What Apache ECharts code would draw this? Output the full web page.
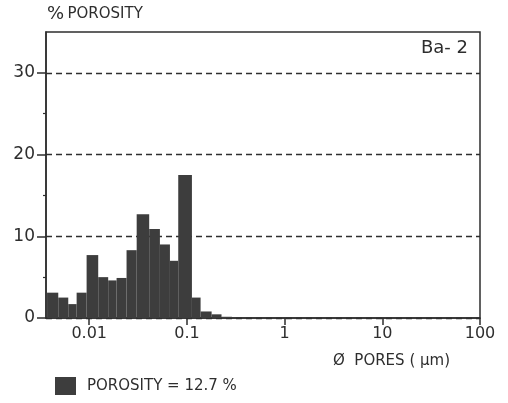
<!DOCTYPE html>
<html>
<head>
<meta charset="utf-8">
<script src="https://cdn.jsdelivr.net/npm/echarts@6/dist/echarts.min.js"></script>
<style>
html,body{margin:0;padding:0;background:#fff;}
#chart{width:508px;height:403px;}
</style>
</head>
<body>
<div id="chart"></div>
<script>
// Pore-diameter bin edges (μm)
var binEdges = [0.0037, 0.00482, 0.0061, 0.00743, 0.0094, 0.01236, 0.01563, 0.01905, 0.0241, 0.0306,
                0.0411, 0.0529, 0.067, 0.0815, 0.1125, 0.138, 0.179, 0.226, 0.289];
// % porosity in each bin
var porosity = [3.1, 2.5, 1.7, 3.1, 7.7, 5.0, 4.6, 4.9, 8.3, 12.7, 10.9, 9.0, 7.0, 17.5, 2.5, 0.8, 0.45, 0.15];
// axis ticks
var xTickValues = [0.01, 0.1, 1, 10, 100];
var xTickLabels = ['0.01', '0.1', '1', '10', '100'];
var xMin = 0.00361, xMax = 100;
var yTicks = [0, 10, 20, 30];
var yMinorTicks = [5, 15, 25];
var yMax = 35;
var sampleName = 'Ba- 2';
var seriesName = 'POROSITY = 12.7 %';

var L = Math.log10;
var data = porosity.map(function (v, i) { return [L(binEdges[i]), L(binEdges[i + 1]), v]; });
var ink = '#2e2e2e';
var font = 'DejaVu Sans';

var chart = echarts.init(document.getElementById('chart'), null, {renderer: 'canvas'});
chart.setOption({
  backgroundColor: '#ffffff',
  animation: false,
  textStyle: {fontFamily: font, color: ink},
  grid: {left: 46, right: 28, top: 32, bottom: 85, show: true, borderColor: ink, borderWidth: 1.5, backgroundColor: 'transparent'},
  legend: {
    data: [seriesName], left: 50, top: 372, icon: 'rect', itemWidth: 21, itemHeight: 18,
    textStyle: {fontFamily: font, fontSize: 15, color: ink, padding: [0, 0, 0, 6]}
  },
  xAxis: {
    type: 'value', min: L(xMin), max: L(xMax),
    axisLine: {show: true, onZero: false, lineStyle: {color: ink, width: 1.5}},
    axisTick: {show: true, length: 7, lineStyle: {color: ink, width: 1.5}, customValues: xTickValues.map(L)},
    axisLabel: {
      show: true, margin: 8, fontSize: 16, color: ink, fontFamily: font,
      customValues: xTickValues.map(L),
      formatter: function (v) {
        for (var i = 0; i < xTickValues.length; i++) { if (Math.abs(L(xTickValues[i]) - v) < 1e-6) return xTickLabels[i]; }
        return '';
      }
    },
    splitLine: {show: false}
  },
  yAxis: [{
    type: 'value', min: 0, max: yMax, interval: 10,
    axisLine: {show: true, onZero: false, lineStyle: {color: ink, width: 1.5}},
    axisTick: {show: true, length: 9, lineStyle: {color: ink, width: 1.5}, customValues: yTicks},
    axisLabel: {show: true, margin: 11, fontSize: 17, color: ink, fontFamily: font, customValues: yTicks},
    splitLine: {show: true, lineStyle: {color: ink, width: 1.3, type: [6, 4]}}
  }, {
    type: 'value', min: 0, max: yMax, position: 'left', offset: 0,
    axisLine: {show: false, onZero: false},
    axisTick: {show: true, length: 3, lineStyle: {color: ink, width: 1.2}, customValues: yMinorTicks},
    axisLabel: {show: false},
    splitLine: {show: false}
  }],
  graphic: [
    {type: 'text', left: 47, top: 5, style: {
      text: '{p|%} {t|POROSITY}', fill: ink,
      rich: {p: {fontFamily: font, fontSize: 18, fill: ink}, t: {fontFamily: font, fontSize: 15, fill: ink}}
    }},
    {type: 'text', right: 40, top: 39, style: {text: sampleName, fontFamily: font, fontSize: 18, fill: ink}},
    {type: 'text', left: 333, top: 354, style: {text: 'Ø  PORES ( μm)', fontFamily: font, fontSize: 15, fill: ink}}
  ],
  series: [{
    type: 'custom', name: seriesName,
    itemStyle: {color: '#3d3d3d'},
    encode: {x: [0, 1], y: 2},
    data: data,
    renderItem: function (params, api) {
      var p0 = api.coord([api.value(0), 0]);
      var p1 = api.coord([api.value(1), api.value(2)]);
      return {
        type: 'rect',
        shape: {x: p0[0], y: p1[1], width: p1[0] - p0[0], height: p0[1] - p1[1]},
        style: {fill: '#3d3d3d'}
      };
    }
  }]
});
</script>
</body>
</html>
